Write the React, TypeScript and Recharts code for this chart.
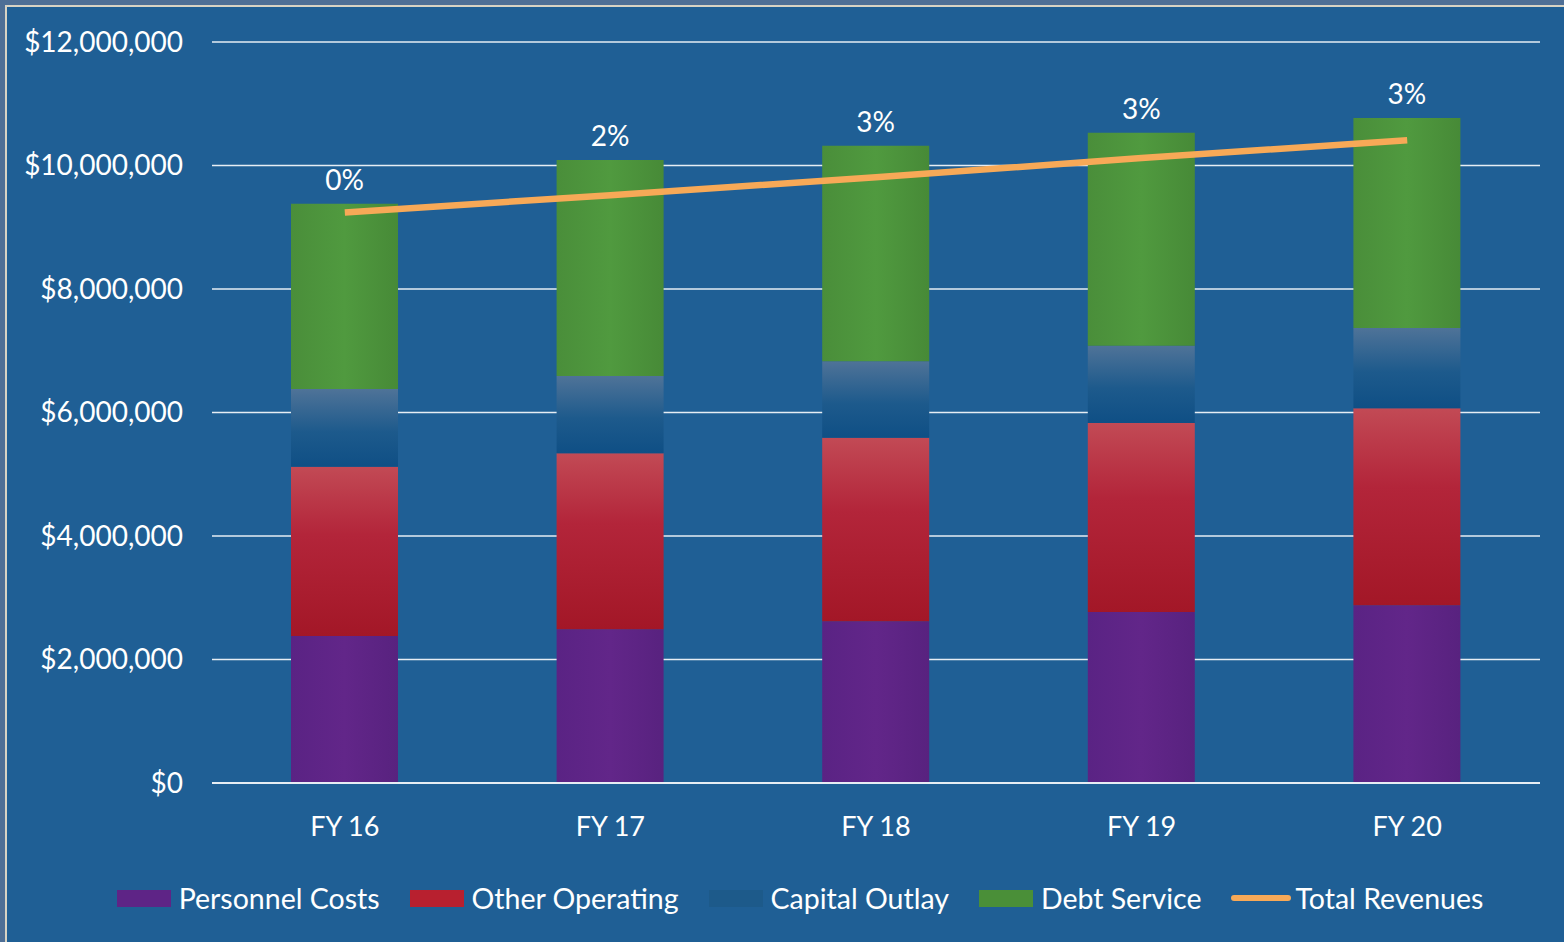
import {
  ComposedChart,
  Bar,
  Line,
  XAxis,
  YAxis,
  CartesianGrid,
  Legend,
  LabelList,
} from 'recharts';

const years = ['FY 16', 'FY 17', 'FY 18', 'FY 19', 'FY 20'];
const personnelCosts = [2380000, 2490000, 2620000, 2770000, 2880000];
const otherOperating = [2740000, 2850000, 2970000, 3060000, 3190000];
const capitalOutlay = [1260000, 1250000, 1240000, 1250000, 1300000];
const debtService = [3000000, 3500000, 3490000, 3450000, 3400000];
const totalRevenues = [9240000, 9520000, 9810000, 10120000, 10410000];
const growthLabels = ['0%', '2%', '3%', '3%', '3%'];
const yTicks = [0, 2000000, 4000000, 6000000, 8000000, 10000000, 12000000];

const chartData = years.map((year, i) => ({
  name: year,
  personnel: personnelCosts[i],
  other: otherOperating[i],
  capital: capitalOutlay[i],
  debt: debtService[i],
  revenues: totalRevenues[i],
  growth: growthLabels[i],
}));

const FONT = 'Lato, "Open Sans", sans-serif';

const legendItems = [
  { name: 'Personnel Costs', color: '#5e2486', kind: 'box' },
  { name: 'Other Operating', color: '#b8202f', kind: 'box' },
  { name: 'Capital Outlay', color: '#1d5a8a', kind: 'box' },
  { name: 'Debt Service', color: '#4a8f38', kind: 'box' },
  { name: 'Total Revenues', color: '#f7a957', kind: 'line' },
];

const formatDollar = (v: number) => '$' + v.toLocaleString('en-US');

function ChartLegend() {
  return (
    <div
      style={{
        display: 'flex',
        justifyContent: 'center',
        alignItems: 'center',
        height: 40,
        fontFamily: FONT,
        fontSize: 28.5,
        color: '#ffffff',
        paddingLeft: 36,
      }}
    >
      {legendItems.map((item, i) => (
        <div
          key={item.name}
          style={{
            display: 'flex',
            alignItems: 'center',
            marginRight: i < legendItems.length - 1 ? 30 : 0,
          }}
        >
          {item.kind === 'box' ? (
            <div
              style={{
                width: 54,
                height: 17,
                background: item.color,
                marginRight: 8,
              }}
            />
          ) : (
            <div
              style={{
                width: 60,
                height: 6,
                background: item.color,
                borderRadius: 3,
                marginRight: 4,
              }}
            />
          )}
          <span>{item.name}</span>
        </div>
      ))}
    </div>
  );
}

export default function App() {
  return (
    <div
      style={{
        position: 'fixed',
        left: 0,
        top: 0,
        width: 1564,
        height: 942,
        background: '#4e6f96',
        overflow: 'hidden',
      }}
    >
      <div
        style={{
          position: 'absolute',
          left: 5,
          top: 5,
          width: 1564,
          height: 942,
          borderLeft: '2px solid #d8d3c4',
          borderTop: '2px solid #d8d3c4',
          background: '#1f5f95',
        }}
      />
      <div style={{ position: 'absolute', left: 0, top: 0 }}>
        <ComposedChart
          width={1564}
          height={942}
          data={chartData}
          margin={{ top: 42, right: 24, bottom: 59, left: 0 }}
          barSize={107}
        >
          <defs>
            <linearGradient id="gPurple" x1="0" y1="0" x2="1" y2="0">
              <stop offset="0%" stopColor="#5a2384" />
              <stop offset="50%" stopColor="#622689" />
              <stop offset="100%" stopColor="#58227f" />
            </linearGradient>
            <linearGradient id="gRed" x1="0" y1="0" x2="0" y2="1">
              <stop offset="0%" stopColor="#c24a55" />
              <stop offset="40%" stopColor="#b3253a" />
              <stop offset="100%" stopColor="#a31727" />
            </linearGradient>
            <linearGradient id="gBlue" x1="0" y1="0" x2="0" y2="1">
              <stop offset="0%" stopColor="#4f7398" />
              <stop offset="55%" stopColor="#1d5a8c" />
              <stop offset="100%" stopColor="#0f4f85" />
            </linearGradient>
            <linearGradient id="gGreen" x1="0" y1="0" x2="1" y2="0">
              <stop offset="0%" stopColor="#4a8e3a" />
              <stop offset="50%" stopColor="#509a3f" />
              <stop offset="100%" stopColor="#478a37" />
            </linearGradient>
          </defs>
          <CartesianGrid
            vertical={false}
            stroke="#e6edf4"
            strokeWidth={1.5}
          />
          <XAxis
            dataKey="name"
            height={60}
            tickLine={false}
            tickSize={0}
            tickMargin={34}
            axisLine={{ stroke: '#e6edf4', strokeWidth: 2 }}
            tick={{ fill: '#ffffff', fontSize: 27, fontFamily: FONT }}
          />
          <YAxis
            width={212}
            domain={[0, 12000000]}
            ticks={yTicks}
            interval={0}
            axisLine={false}
            tickLine={false}
            tickSize={0}
            tickMargin={29}
            tickFormatter={formatDollar}
            tick={{ fill: '#ffffff', fontSize: 28, fontFamily: FONT }}
          />
          <Legend
            verticalAlign="bottom"
            content={() => <ChartLegend />}
            wrapperStyle={{ bottom: 24, left: 0, width: 1564 }}
          />
          <Bar
            dataKey="personnel"
            name="Personnel Costs"
            stackId="a"
            fill="url(#gPurple)"
            isAnimationActive={false}
          />
          <Bar
            dataKey="other"
            name="Other Operating"
            stackId="a"
            fill="url(#gRed)"
            isAnimationActive={false}
          />
          <Bar
            dataKey="capital"
            name="Capital Outlay"
            stackId="a"
            fill="url(#gBlue)"
            isAnimationActive={false}
          />
          <Bar
            dataKey="debt"
            name="Debt Service"
            stackId="a"
            fill="url(#gGreen)"
            isAnimationActive={false}
          >
            <LabelList
              dataKey="growth"
              position="top"
              offset={14}
              fill="#ffffff"
              fontSize={28}
              fontFamily={FONT}
            />
          </Bar>
          <Line
            type="linear"
            dataKey="revenues"
            name="Total Revenues"
            stroke="#f7a957"
            strokeWidth={6.5}
            dot={false}
            activeDot={false}
            isAnimationActive={false}
          />
        </ComposedChart>
      </div>
    </div>
  );
}
